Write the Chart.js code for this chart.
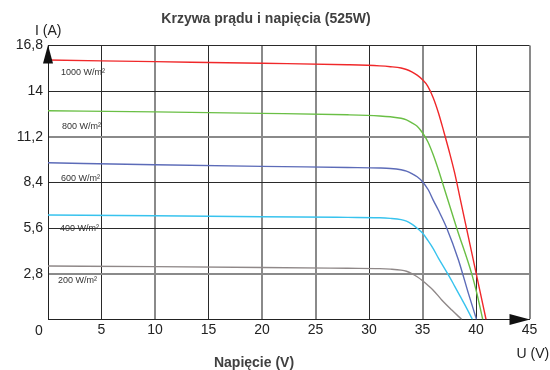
<!DOCTYPE html>
<html><head><meta charset="utf-8">
<script src="https://cdn.jsdelivr.net/npm/chart.js@4/dist/chart.umd.min.js"></script>
<style>html,body{margin:0;padding:0;background:#fff}#wrap{width:550px;height:370px;position:relative}</style>
</head><body><div id="wrap"><canvas id="c"></canvas></div>
<script>
const chartTitle = 'Krzywa prądu i napięcia (525W)';
const xAxisTitle = 'Napięcie (V)';
const yUnit = 'I (A)';
const xUnit = 'U (V)';
const xTicks = [0, 5, 10, 15, 20, 25, 30, 35, 40, 45];
const yTicks = [0, 2.8, 5.6, 8.4, 11.2, 14, 16.8];
const seriesLabels = ['1000 W/m²', '800 W/m²', '600 W/m²', '400 W/m²', '200 W/m²'];

const v1000 = [0, 10, 20, 28, 31, 32, 33, 33.5, 34, 34.5, 35, 35.5, 36, 36.5, 37, 37.5, 38, 38.5, 39, 39.5, 40, 40.94];
const i1000 = [15.91, 15.81, 15.71, 15.62, 15.55, 15.5, 15.42, 15.33, 15.18, 14.98, 14.7, 14.3, 13.6, 12.65, 11.5, 10.3, 9.0, 7.47, 5.94, 4.41, 2.88, 0];
const v800 = [0, 10, 20, 28, 31, 32, 33, 33.5, 34, 34.5, 35, 35.5, 36, 36.5, 36.86, 38.2, 39.6, 40.1, 40.63];
const i800 = [12.8, 12.73, 12.64, 12.55, 12.48, 12.43, 12.34, 12.24, 12.06, 11.85, 11.45, 10.9, 10.1, 9.15, 8.4, 5.6, 2.8, 1.55, 0];
const v600 = [0, 10, 20, 28, 31, 32, 33, 33.5, 34, 34.5, 35, 35.55, 36, 36.48, 37.27, 38.36, 39.29, 40.05];
const i600 = [9.61, 9.49, 9.39, 9.32, 9.29, 9.26, 9.18, 9.1, 8.95, 8.75, 8.45, 7.94, 7.32, 6.71, 5.6, 3.65, 1.6, 0];
const v400 = [0, 10, 20, 28, 31, 32, 33, 33.5, 34, 34.4, 35, 35.5, 36, 36.5, 37, 37.5, 38, 38.5, 39, 39.67];
const i400 = [6.41, 6.36, 6.3, 6.26, 6.24, 6.2, 6.12, 6.03, 5.85, 5.65, 5.3, 4.85, 4.35, 3.75, 3.2, 2.65, 2.05, 1.45, 0.85, 0];
const v200 = [0, 10, 20, 28, 31, 32, 33, 33.5, 34, 34.5, 35, 35.5, 36, 36.8, 37.74, 38.67];
const i200 = [3.28, 3.24, 3.19, 3.14, 3.12, 3.09, 3.03, 2.96, 2.82, 2.62, 2.38, 2.1, 1.8, 1.2, 0.58, 0];

const seriesV = [v1000, v800, v600, v400, v200];
const seriesI = [i1000, i800, i600, i400, i200];
const colors = ['#f0282a', '#6abf45', '#5c6bb8', '#38c3ee', '#8f8888'];
const labelX = [61, 62, 61, 60, 58];
const labelDy = [12.5, 16, 15.5, 13.3, 15];

const datasets = seriesV.map((vs, k) => ({
  label: seriesLabels[k],
  data: vs.map((v, j) => ({x: v, y: seriesI[k][j]})),
  showLine: true,
  borderColor: colors[k],
  backgroundColor: colors[k],
  borderWidth: 1.4,
  pointRadius: 0,
  cubicInterpolationMode: 'monotone',
  fill: false
}));

const grayX = [10, 20, 25, 35, 45];
const grayY = [2.8, 11.2];
function near(arr, v){ return arr.some(a => Math.abs(a - v) < 1e-6); }

const extras = {
  id: 'extras',
  beforeDatasetsDraw(chart) {
    const ctx = chart.ctx, ys = chart.scales.y;
    ctx.save();
    ctx.fillStyle = '#333';
    ctx.font = '9px "Liberation Sans", Arial, sans-serif';
    ctx.textAlign = 'left';
    ctx.textBaseline = 'middle';
    seriesLabels.forEach((t, k) => {
      const y = ys.getPixelForValue(seriesI[k][0]) + labelDy[k];
      ctx.fillText(t, labelX[k], y);
    });
    ctx.restore();
  },
  afterDraw(chart) {
    const ctx = chart.ctx, a = chart.chartArea;
    ctx.save();
    ctx.fillStyle = '#111';
    ctx.beginPath();
    ctx.moveTo(a.left, a.top - 0.5);
    ctx.lineTo(a.left - 5, a.top + 18);
    ctx.lineTo(a.left + 5, a.top + 18);
    ctx.closePath(); ctx.fill();
    ctx.beginPath();
    ctx.moveTo(a.right + 0.5, a.bottom);
    ctx.lineTo(a.right - 20, a.bottom - 5.5);
    ctx.lineTo(a.right - 20, a.bottom + 5.5);
    ctx.closePath(); ctx.fill();

    ctx.fillStyle = '#222';
    ctx.font = '14px "Liberation Sans", Arial, sans-serif';
    ctx.textBaseline = 'middle';
    ctx.textAlign = 'left';
    ctx.fillText(yUnit, 35, 31);
    ctx.fillText(xUnit, 516.5, 354);
    ctx.textAlign = 'center';
    ctx.fillText('0', 39, 331);

    ctx.fillStyle = '#404040';
    ctx.font = 'bold 14px "Liberation Sans", Arial, sans-serif';
    ctx.fillText(chartTitle, 266, 19);
    ctx.fillText(xAxisTitle, 254, 363);
    ctx.restore();
  }
};

new Chart(document.getElementById('c'), {
  type: 'scatter',
  data: { datasets },
  options: {
    responsive: true,
    maintainAspectRatio: false,
    animation: false,
    devicePixelRatio: 1,
    layout: { padding: { top: 45.5, right: 20.5, left: 0, bottom: 0 } },
    plugins: { legend: { display: false }, title: { display: false }, tooltip: { enabled: false } },
    scales: {
      x: {
        type: 'linear', min: 0, max: 45,
        afterBuildTicks: s => { s.ticks = xTicks.map(v => ({value: v})); },
        afterFit: s => { s.height = 50.5; },
        ticks: {
          autoSkip: false, maxRotation: 0, padding: 2, color: '#222',
          font: { family: '"Liberation Sans", Arial, sans-serif', size: 14 },
          callback: v => v === 0 ? '' : String(v)
        },
        grid: {
          drawTicks: false,
          color: c => near(grayX, c.tick.value) ? '#8a8a8a' : '#2a2a2a',
          lineWidth: c => near(grayX, c.tick.value) ? 2 : 1
        },
        border: { color: '#222', width: 1 }
      },
      y: {
        type: 'linear', min: 0, max: 16.8,
        afterBuildTicks: s => { s.ticks = yTicks.map(v => ({value: v})); },
        afterFit: s => { s.width = 48; },
        ticks: {
          autoSkip: false, padding: 5, color: '#222',
          font: { family: '"Liberation Sans", Arial, sans-serif', size: 14 },
          callback: v => v === 0 ? '' : String(Math.round(v * 10) / 10).replace('.', ',')
        },
        grid: {
          drawTicks: false,
          color: c => near(grayY, c.tick.value) ? '#8a8a8a' : '#2a2a2a',
          lineWidth: c => near(grayY, c.tick.value) ? 2 : 1
        },
        border: { color: '#222', width: 1 }
      }
    }
  },
  plugins: [extras]
});
</script>
</body></html>
